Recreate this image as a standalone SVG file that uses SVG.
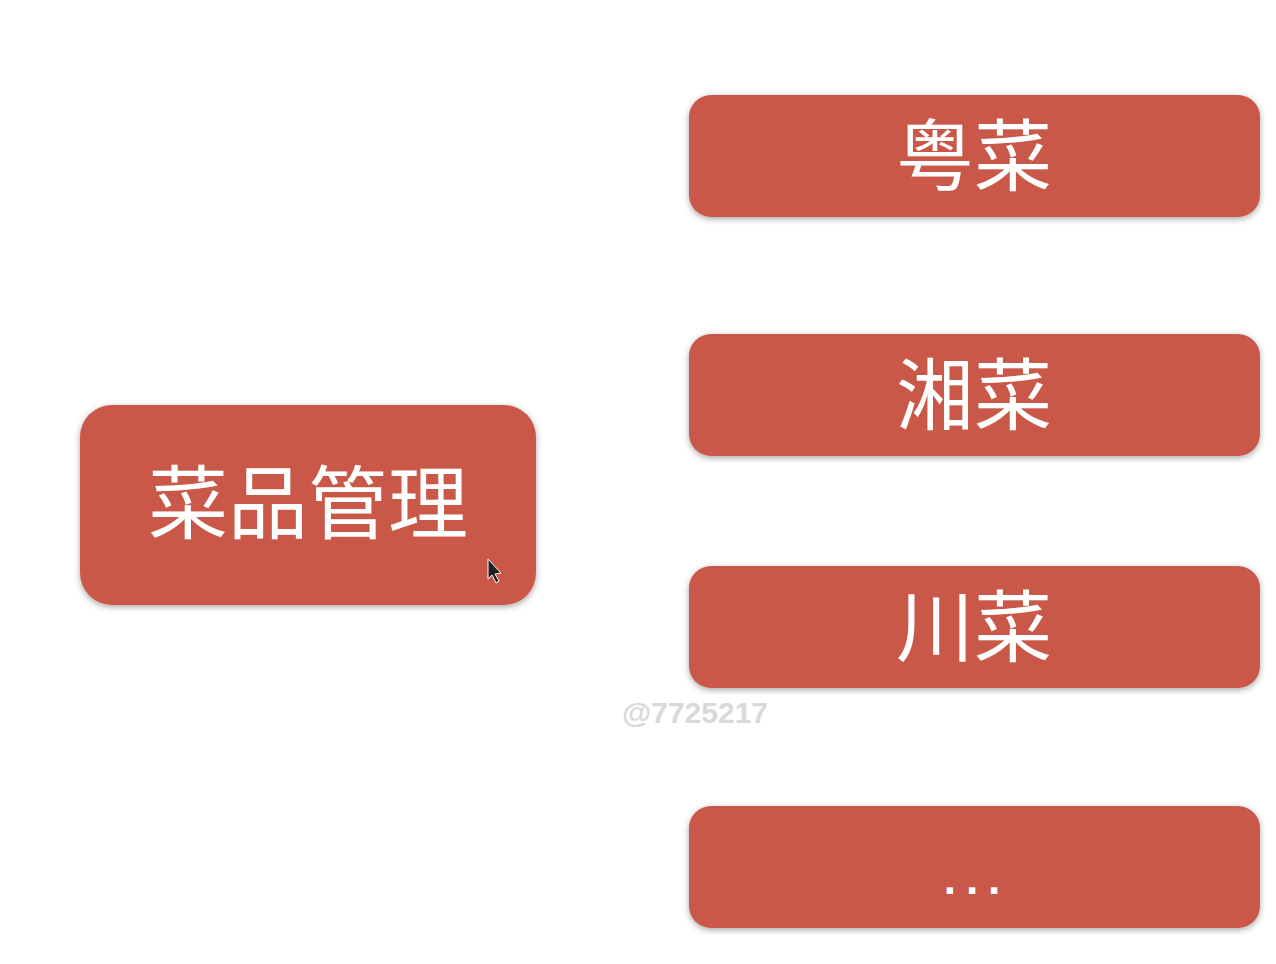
<svg xmlns="http://www.w3.org/2000/svg" width="1276" height="964" viewBox="0 0 1276 964">
<defs>
<filter id="sh" x="-10%" y="-20%" width="120%" height="140%">
<feDropShadow dx="0" dy="2" stdDeviation="3" flood-color="#000" flood-opacity="0.35"/>
</filter>
</defs>
<style>
.box{fill:#C9584A;filter:url(#sh)}
.lbl{fill:#fff;font-family:"Noto Sans CJK SC","Noto Sans",sans-serif;text-anchor:middle;dominant-baseline:central}
.wm{fill:#d9d9d9;font-family:"Liberation Sans",Arial,sans-serif;font-weight:bold;font-size:30px}
</style>
<rect width="1276" height="964" fill="#fff"/>
<g id="connectors"></g>
<g id="node-main">
<rect class="box" x="80" y="405" width="456" height="200" rx="32"/>
<text class="lbl" x="308" y="497" font-size="80">菜品管理</text>
</g>
<g id="node-yue">
<rect class="box" x="689" y="95" width="571" height="122" rx="22"/>
<text class="lbl" x="974" y="151" font-size="78">粤菜</text>
</g>
<g id="node-xiang">
<rect class="box" x="689" y="334" width="571" height="122" rx="22"/>
<text class="lbl" x="974" y="390" font-size="78">湘菜</text>
</g>
<g id="node-chuan">
<rect class="box" x="689" y="566" width="571" height="122" rx="22"/>
<text class="lbl" x="974" y="622" font-size="78">川菜</text>
</g>
<g id="node-more">
<rect class="box" x="689" y="806" width="571" height="122" rx="22"/>
<text x="977" y="894" fill="#fff" font-family="Liberation Sans, sans-serif" font-size="44" font-weight="bold" text-anchor="middle" letter-spacing="10">...</text>
</g>
<text class="wm" x="622" y="723">@7725217</text>
<path d="M488,559 L488,579 L492,575 L496,583 L499,581 L495,574 L501,573 Z" fill="#222" stroke="#fff" stroke-width="1"/>
</svg>
